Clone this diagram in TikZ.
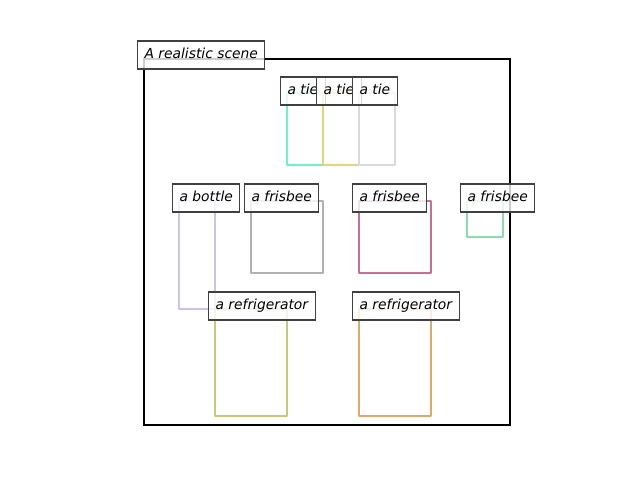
\documentclass[tikz,border=0pt]{standalone}
\usepackage{fontspec}
\setmainfont{DejaVu Sans}
\usepackage{tikz}
\usepackage{xcolor}
\usetikzlibrary{positioning}

\definecolor{tieA}{HTML}{6EF2CE}
\definecolor{tieB}{HTML}{E8D27A}
\definecolor{tieC}{HTML}{D8DADC}
\definecolor{bottleC}{HTML}{D0C0EE}
\definecolor{frisA}{HTML}{AEB3AE}
\definecolor{frisB}{HTML}{C96B9B}
\definecolor{frisC}{HTML}{8ADFA8}
\definecolor{fridgeA}{HTML}{C8C878}
\definecolor{fridgeB}{HTML}{DCAA6A}

\tikzset{
    lbl/.style={draw=black!75, line width=0.8pt, fill=white, fill opacity=0.8, text opacity=1,
        inner sep=5pt, text height=8pt, text depth=2.2pt, anchor=base west, xshift=-5pt,
        font=\fontsize{10}{12}\selectfont\itshape},
    obj/.style={line width=2pt, line join=round},
}

\begin{document}
\begin{tikzpicture}[x=0.01in, y=-0.01in]
        \useasboundingbox (0,0) rectangle (640,480);
        \draw[line width=2pt] (144,59) rectangle (510,425);
        \node[lbl] (scene) at (144,59) {A realistic scene};

        \draw[obj, tieA] (287,93) rectangle (323,165);
        \node[lbl] (tie1) at (287,95) {a tie};
        \draw[obj, tieB] (323,93) rectangle (359,165);
        \node[lbl] (tie2) at (323,95) {a tie};
        \draw[obj, tieC] (359,93) rectangle (395,165);
        \node[lbl] (tie3) at (359,95) {a tie};

        \draw[obj, bottleC] (179,201) rectangle (215,309);
        \node[lbl] (bottle) at (179,202) {a bottle};
        \draw[obj, frisA] (251,201) rectangle (323,273);
        \node[lbl] (fris1) at (251,202) {a frisbee};
        \draw[obj, frisB] (359,201) rectangle (431,273);
        \node[lbl] (fris2) at (359,202) {a frisbee};
        \draw[obj, frisC] (467,201) rectangle (503,237);
        \node[lbl] (fris3) at (467,202) {a frisbee};

        \draw[obj, fridgeA] (215,309) rectangle (287,416);
        \node[lbl] (fridge1) at (215,310) {a refrigerator};
        \draw[obj, fridgeB] (359,309) rectangle (431,416);
        \node[lbl] (fridge2) at (359,310) {a refrigerator};
    \end{tikzpicture}
\end{document}
